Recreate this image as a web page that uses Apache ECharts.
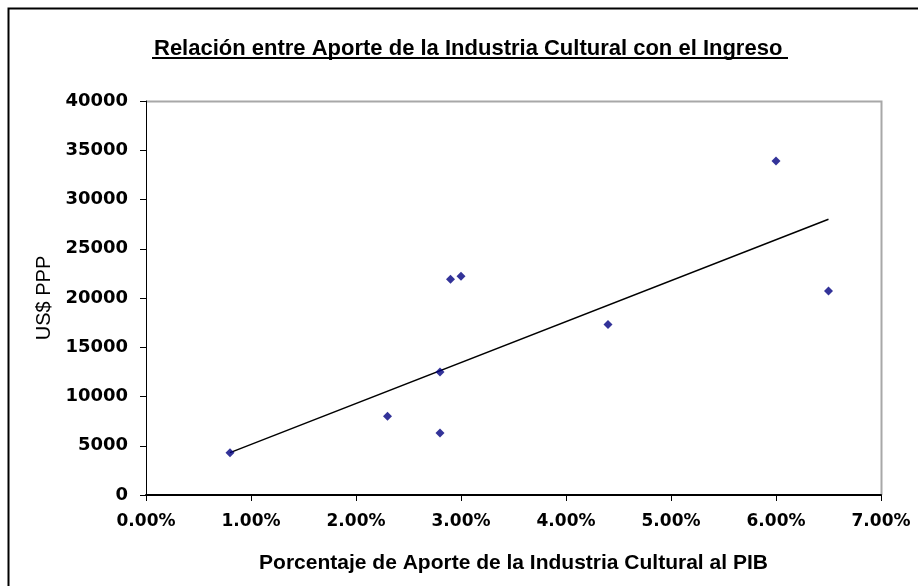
<!DOCTYPE html>
<html>
<head>
<meta charset="utf-8">
<script src="https://cdn.jsdelivr.net/npm/echarts@6/dist/echarts.min.js"></script>
<style>
  html, body { margin: 0; padding: 0; background: #fff; }
  #chart { width: 918px; height: 586px; }
</style>
</head>
<body>
<div id="chart"></div>
<script>
// porcentaje del PIB (%) y US$ PPP por país
const aportePct = [0.8, 2.3, 2.8, 2.8, 2.9, 3.0, 4.4, 6.0, 6.5];
const ingreso = [4300, 8000, 12500, 6300, 21900, 22200, 17300, 33900, 20700];

// línea de tendencia (extremos)
const trendX = [0.8, 6.5];
const trendY = [4300, 28000];

const titleText = 'Relación entre Aporte de la Industria Cultural con el Ingreso';
const xName = 'Porcentaje de Aporte de la Industria Cultural al PIB';
const yName = 'US$ PPP';

const chart = echarts.init(document.getElementById('chart'));

const points = aportePct.map((x, i) => [x, ingreso[i]]);
const trend = trendX.map((x, i) => [x, trendY[i]]);

chart.setOption({
  animation: false,
  backgroundColor: '#fff',
  title: {
    text: titleText,
    left: 149,
    top: 33,
    textStyle: {
      fontFamily: 'Liberation Sans',
      fontWeight: 'bold',
      fontSize: 22,
      color: '#000'
    }
  },
  graphic: [
    {
      // marco exterior
      type: 'rect',
      shape: { x: 8.5, y: 8.5, width: 940, height: 600 },
      style: { fill: null, stroke: '#000', lineWidth: 2 },
      silent: true
    },
    {
      // subrayado del título
      type: 'line',
      shape: { x1: 152, y1: 58, x2: 788, y2: 58 },
      style: { stroke: '#000', lineWidth: 2 },
      silent: true
    },
    {
      // borde gris del área de trazado
      type: 'polyline',
      shape: { points: [[146, 101.5], [881.5, 101.5], [881.5, 495]] },
      style: { fill: null, stroke: '#a8a8a8', lineWidth: 2 },
      silent: true
    }
  ],
  grid: {
    left: 146,
    right: 37,
    top: 101,
    bottom: 91
  },
  xAxis: {
    type: 'value',
    min: 0,
    max: 7,
    interval: 1,
    name: xName,
    nameLocation: 'middle',
    nameGap: 58,
    nameTextStyle: {
      fontFamily: 'Liberation Sans',
      fontWeight: 'bold',
      fontSize: 21,
      color: '#000'
    },
    axisLine: { show: true, onZero: false, lineStyle: { color: '#000', width: 2 } },
    axisTick: { show: true, length: 6, lineStyle: { color: '#000' } },
    splitLine: { show: false },
    axisLabel: {
      margin: 18,
      fontFamily: 'DejaVu Sans',
      fontWeight: 'bold',
      fontSize: 17,
      color: '#000',
      formatter: v => v.toFixed(2) + '%'
    }
  },
  yAxis: {
    type: 'value',
    min: 0,
    max: 40000,
    interval: 5000,
    name: yName,
    nameLocation: 'middle',
    nameGap: 89,
    nameTextStyle: {
      fontFamily: 'Liberation Sans',
      fontWeight: 'normal',
      fontSize: 20,
      color: '#000'
    },
    axisLine: { show: true, lineStyle: { color: '#000', width: 1 } },
    axisTick: { show: true, length: 6, lineStyle: { color: '#000' } },
    splitLine: { show: false },
    axisLabel: {
      margin: 18,
      fontFamily: 'DejaVu Sans',
      fontWeight: 'bold',
      fontSize: 18,
      color: '#000',
      formatter: v => String(v)
    }
  },
  series: [
    {
      type: 'scatter',
      data: points,
      symbol: 'diamond',
      symbolSize: 9,
      itemStyle: { color: '#000080' },
      z: 3
    },
    {
      type: 'line',
      data: trend,
      symbol: 'none',
      lineStyle: { color: '#000', width: 1.5 },
      z: 2
    }
  ]
});
</script>
</body>
</html>
